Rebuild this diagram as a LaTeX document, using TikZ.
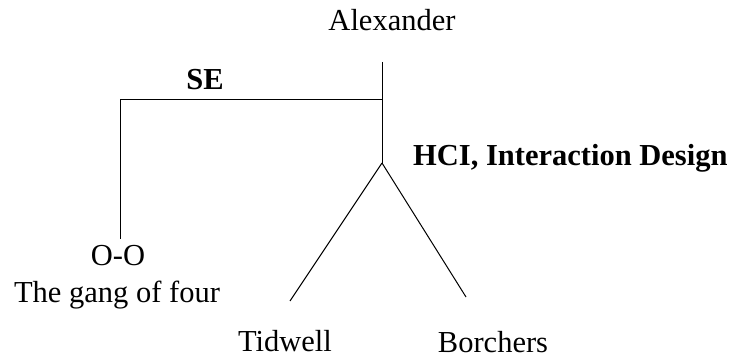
\documentclass[tikz,border=0pt]{standalone}
\usepackage{fontspec}
\setmainfont{Liberation Serif}
\begin{document}
\begin{tikzpicture}[x=1pt,y=-1pt,
  lbl/.style={inner sep=0pt,anchor=base,font=\fontsize{30.5}{36}\selectfont},
  blbl/.style={lbl,font=\fontsize{30.5}{36}\selectfont\bfseries},
  edge/.style={line width=1pt,black}]
\useasboundingbox (0,0) rectangle (735,358);
% labels
\node[lbl] (alex) at (392,31) {Alexander};
\node[blbl] (se) at (205,90) {SE};
\node[blbl,anchor=base west] (hci) at (413,165) {HCI, Interaction Design};
\node[lbl] (oo) at (118,265) {O-O};
\node[lbl] (gof) at (117,302) {The gang of four};
\node[lbl] (tid) at (285,351) {Tidwell};
\node[lbl] (bor) at (493,352.5) {Borchers};
% connector points
\coordinate (top) at (382,62);
\coordinate (junc) at (382,100);
\coordinate (branch) at (382,163);
\coordinate (seleft) at (120,100);
\coordinate (ootop) at (120,239);
\coordinate (tidtop) at (290,301);
\coordinate (bortop) at (466,297);
% connectors
\draw[edge] (top) -- (branch);
\draw[edge] (junc) -- (seleft) -- (ootop);
\draw[edge] (branch) -- (tidtop);
\draw[edge] (branch) -- (bortop);
\end{tikzpicture}
\end{document}
